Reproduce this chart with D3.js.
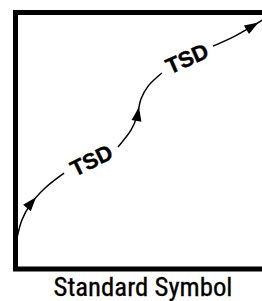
<!DOCTYPE html>
<html><head><meta charset="utf-8">
<script src="https://cdn.jsdelivr.net/npm/d3@7"></script>
<style>html,body{margin:0;padding:0;background:#fff;overflow:hidden}</style>
</head><body>
<svg id="c" width="262" height="301"></svg>
<script>
// Curve segments (x, y in 0-100 chart units)
const seg1 = [[0.6,12.1],[2.6,19.1],[5.9,25.0],[12.0,31.6],[19.7,37.4]];
const seg2 = [[41.6,47.6],[46.9,54.2],[49.3,59.6],[50.9,66.3],[53.8,71.3],[59.4,76.4]];
const seg3 = [[80.1,86.9],[89.0,90.8],[101,97.5]];
const segments = [seg1, seg2, seg3];
const arrowAt = [0.55, 0.52, 0.88];           // arrow tip position along each segment
const labels = [{text:"TSD", x:30.8, y:42.3, angle:-26},{text:"TSD", x:69.6, y:82.0, angle:-24}];
const caption = "Standard Symbol";

const svg = d3.select("#c");
const x = d3.scaleLinear().domain([0,100]).range([15.5,262]);
const y = d3.scaleLinear().domain([0,100]).range([269,12.5]);

// frame
svg.append("path")
  .attr("d", `M${x(103)},${y(100)}L${x(0)},${y(100)}L${x(0)},${y(0)}L${x(103)},${y(0)}`)
  .attr("fill","none").attr("stroke","#000").attr("stroke-width",5).attr("stroke-linejoin","miter");

const line = d3.line().x(d=>x(d[0])).y(d=>y(d[1])).curve(d3.curveCatmullRom);
segments.forEach((s,i)=>{
  const p = svg.append("path").attr("d", line(s)).attr("fill","none")
    .attr("stroke","#000").attr("stroke-width",1.5);
  const node = p.node(), L = node.getTotalLength();
  const t = node.getPointAtLength(L*arrowAt[i]);
  const b = node.getPointAtLength(Math.max(0, L*arrowAt[i]-4));
  const ang = Math.atan2(t.y-b.y, t.x-b.x)*180/Math.PI;
  svg.append("path").attr("d","M0,0L-14,-5L-14,5Z").attr("fill","#000")
    .attr("transform",`translate(${t.x},${t.y}) rotate(${ang})`);
});

labels.forEach(l=>{
  svg.append("text").text(l.text)
    .attr("transform",`translate(${x(l.x)},${y(l.y)}) rotate(${l.angle})`)
    .attr("text-anchor","middle").attr("dominant-baseline","central")
    .attr("font-family","Liberation Sans, Arial, sans-serif").attr("font-weight","bold")
    .attr("font-size",22).attr("fill","#000")
    .attr("stroke","#000").attr("stroke-width",0.4);
});

svg.append("text").text(caption).attr("x",143).attr("y",296)
  .attr("text-anchor","middle")
  .attr("textLength",179).attr("lengthAdjust","spacingAndGlyphs")
  .attr("font-family","'Liberation Sans Narrow', 'Arial Narrow', 'Roboto Condensed', sans-serif")
  .attr("font-size",26).attr("fill","#000")
  .attr("stroke","#000").attr("stroke-width",0.3);
</script>
</body></html>
